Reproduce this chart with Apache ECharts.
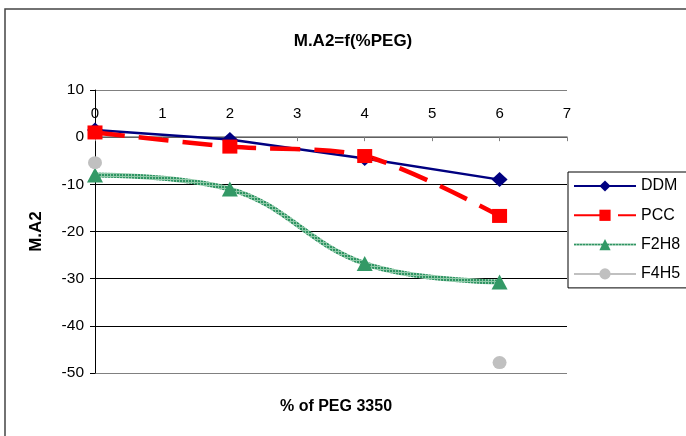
<!DOCTYPE html>
<html>
<head>
<meta charset="utf-8">
<script src="https://cdn.jsdelivr.net/npm/echarts@6/dist/echarts.min.js"></script>
<style>
  html, body { margin: 0; padding: 0; background: #fff; }
  #chart { width: 686px; height: 436px; }
</style>
</head>
<body>
<div id="chart"></div>
<script>
// % PEG 3350 on x, M.A2 on y
const pegPercent = [0, 2, 4, 6];
const ddm = [1.5, -0.5, -4.5, -9];
const pcc = [1, -2, -4, -16.7];
const f2h8 = [-8, -11, -26.8, -30.7];
const f4h5 = [-5.4, null, null, -47.8];

function pairs(vals) {
  return pegPercent.map(function (x, i) { return [x, vals[i]]; });
}

// small checker pattern for the textured green line
const pat = document.createElement('canvas');
pat.width = 3; pat.height = 3;
const pctx = pat.getContext('2d');
pctx.fillStyle = '#8fc9a8';
pctx.fillRect(0, 0, 3, 3);
pctx.fillStyle = '#2f9463';
pctx.fillRect(0, 0, 2, 2);

const font = '"Liberation Sans", Arial, sans-serif';
const chart = echarts.init(document.getElementById('chart'));

chart.setOption({
  animation: false,
  backgroundColor: '#fff',
  textStyle: { fontFamily: font },
  graphic: [{
    type: 'rect',
    shape: { x: 5, y: 9, width: 760, height: 480 },
    style: { fill: 'none', stroke: '#444', lineWidth: 1.5 },
    z: -1
  }],
  title: [{
    text: 'M.A2=f(%PEG)',
    left: 348, top: 28, textAlign: 'center',
    textStyle: { fontSize: 17, fontWeight: 'bold', color: '#000', fontFamily: font }
  }, {
    text: '% of PEG 3350',
    left: 331, top: 394, textAlign: 'center',
    textStyle: { fontSize: 16, fontWeight: 'bold', color: '#000', fontFamily: font }
  }],
  legend: {
    orient: 'vertical',
    left: 568, top: 172,
    itemWidth: 62, itemHeight: 14, itemGap: 13.3,
    padding: [6, 60, 6, 5],
    borderColor: '#000', borderWidth: 1,
    backgroundColor: '#fff',
    textStyle: { fontSize: 16, color: '#000', fontFamily: font },
    data: ['DDM', 'PCC', 'F2H8', 'F4H5']
  },
  grid: { left: 95, right: 119, top: 90, bottom: 63 },
  xAxis: {
    type: 'value', position: 'top',
    min: 0, max: 7, interval: 1,
    axisLine: { show: true, lineStyle: { color: '#808080', width: 1.5 } },
    axisTick: { show: true, inside: true, length: 4, lineStyle: { color: '#808080' } },
    axisLabel: { inside: true, margin: 16, fontSize: 15, color: '#000', fontFamily: font },
    splitLine: { show: false }
  },
  yAxis: {
    type: 'value', min: -50, max: 10, interval: 10,
    name: 'M.A2', nameLocation: 'middle', nameGap: 50,
    nameTextStyle: { fontSize: 17, fontWeight: 'bold', color: '#000', fontFamily: font },
    axisLine: { show: true, lineStyle: { color: '#000' } },
    axisTick: { show: true, length: 5, lineStyle: { color: '#000' } },
    axisLabel: { margin: 11, fontSize: 15.5, color: '#000', fontFamily: font },
    splitLine: { show: true, lineStyle: { color: ['#808080', '#000', '#000', '#000', '#000', '#000', '#808080'], width: 1.2 } }
  },
  series: [{
    name: 'DDM', type: 'line', data: pairs(ddm),
    symbol: 'diamond', symbolSize: [16, 15],
    lineStyle: { color: '#000080', width: 2.5 },
    itemStyle: { color: '#000080' }
  }, {
    name: 'PCC', type: 'line', data: pairs(pcc), smooth: 0.3,
    symbol: 'rect', symbolSize: [15, 14],
    lineStyle: { color: '#ff0000', width: 4.5, type: [30, 14] },
    itemStyle: { color: '#ff0000' }
  }, {
    name: 'F2H8', type: 'line', data: pairs(f2h8), smooth: 0.4,
    symbol: 'triangle', symbolSize: [16, 15],
    lineStyle: { color: { image: pat, repeat: 'repeat' }, width: 5 },
    itemStyle: { color: '#339966' }
  }, {
    name: 'F4H5', type: 'line', data: pairs(f4h5), connectNulls: false,
    symbol: 'circle', symbolSize: [14, 13],
    lineStyle: { color: '#c0c0c0', width: 1.5 },
    itemStyle: { color: '#c0c0c0' }
  }]
});
</script>
</body>
</html>
